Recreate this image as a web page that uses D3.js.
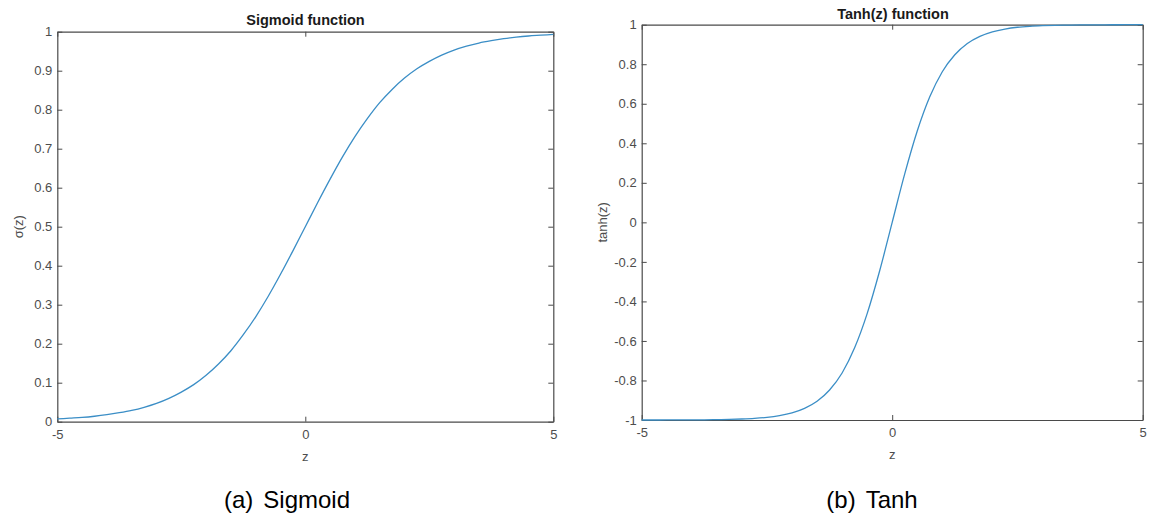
<!DOCTYPE html>
<html>
<head>
<meta charset="utf-8">
<script src="https://cdn.jsdelivr.net/npm/d3@7"></script>
<style>
  body { margin: 0; background: #fff; }
  text { font-family: "Liberation Sans", Arial, sans-serif; }
</style>
</head>
<body>
<div id="chart"></div>
<script>
// values, every 0.25 in z
const zValues = [-5, -4.75, -4.5, -4.25, -4, -3.75, -3.5, -3.25, -3, -2.75, -2.5, -2.25, -2, -1.75, -1.5, -1.25, -1, -0.75, -0.5, -0.25, 0,
                 0.25, 0.5, 0.75, 1, 1.25, 1.5, 1.75, 2, 2.25, 2.5, 2.75, 3, 3.25, 3.5, 3.75, 4, 4.25, 4.5, 4.75, 5];
const sigmoidValues = [0.007, 0.009, 0.011, 0.014, 0.018, 0.023, 0.029, 0.037, 0.047, 0.060, 0.076, 0.095, 0.119, 0.148, 0.182, 0.223, 0.269, 0.321, 0.378, 0.438, 0.5,
                       0.562, 0.622, 0.679, 0.731, 0.777, 0.818, 0.852, 0.881, 0.905, 0.924, 0.940, 0.953, 0.963, 0.971, 0.977, 0.982, 0.986, 0.989, 0.991, 0.993];
const tanhValues = [-1.0, -1.0, -0.9998, -0.9996, -0.9993, -0.9989, -0.998, -0.997, -0.995, -0.992, -0.987, -0.978, -0.964, -0.941, -0.905, -0.848, -0.762, -0.635, -0.462, -0.245, 0,
                    0.245, 0.462, 0.635, 0.762, 0.848, 0.905, 0.941, 0.964, 0.978, 0.987, 0.992, 0.995, 0.997, 0.998, 0.9989, 0.9993, 0.9996, 0.9998, 1.0, 1.0];
const xTicks = [-5, 0, 5];
const sigmoidTicks = [0, 0.1, 0.2, 0.3, 0.4, 0.5, 0.6, 0.7, 0.8, 0.9, 1];
const tanhTicks = [-1, -0.8, -0.6, -0.4, -0.2, 0, 0.2, 0.4, 0.6, 0.8, 1];

const width = 1150, height = 517;
const svg = d3.select("#chart").append("svg")
    .attr("width", width).attr("height", height);

const fmt = d => String(+d.toFixed(1));
const boxColor = "#4a4a4a", labelColor = "#4d4d4d", lineColor = "#3b8ec6";

function drawPanel(p) {
    const x = d3.scaleLinear().domain([-5, 5]).range([p.x0, p.x1]);
    const y = d3.scaleLinear().domain(p.yDomain).range([p.y1, p.y0]);
    const g = svg.append("g");

    // bottom + left with labels, top + right just ticks (inward like matlab)
    const bottom = g.append("g").attr("transform", `translate(0,${p.y1})`)
        .call(d3.axisBottom(x).tickValues(xTicks).tickSizeInner(-5).tickSizeOuter(0)
              .tickPadding(8).tickFormat(fmt));
    const left = g.append("g").attr("transform", `translate(${p.x0},0)`)
        .call(d3.axisLeft(y).tickValues(p.yTicks).tickSizeInner(-5).tickSizeOuter(0)
              .tickPadding(5).tickFormat(fmt));
    const top = g.append("g").attr("transform", `translate(0,${p.y0})`)
        .call(d3.axisTop(x).tickValues(xTicks).tickSizeInner(-5).tickSizeOuter(0).tickFormat(""));
    const right = g.append("g").attr("transform", `translate(${p.x1},0)`)
        .call(d3.axisRight(y).tickValues(p.yTicks).tickSizeInner(-5).tickSizeOuter(0).tickFormat(""));

    [bottom, left, top, right].forEach(a => {
        a.selectAll("path.domain").attr("stroke", boxColor).attr("stroke-width", 1.2);
        a.selectAll(".tick line").attr("stroke", boxColor);
        a.selectAll(".tick text").attr("fill", labelColor).style("font-size", "13px");
    });

    const line = d3.line()
        .x((d, i) => x(zValues[i]))
        .y(d => y(d))
        .curve(d3.curveMonotoneX);

    g.append("path")
        .datum(p.values)
        .attr("fill", "none")
        .attr("stroke", lineColor)
        .attr("stroke-width", 1.3)
        .attr("d", line);

    // title
    g.append("text")
        .attr("x", p.titleX).attr("y", p.titleY)
        .attr("text-anchor", "middle")
        .style("font-size", "14.5px").style("font-weight", "bold")
        .attr("fill", "#1a1a1a")
        .text(p.title);

    // axis labels
    g.append("text")
        .attr("x", (p.x0 + p.x1) / 2).attr("y", p.y1 + 39)
        .attr("text-anchor", "middle")
        .style("font-size", "13px").attr("fill", labelColor)
        .text("z");

    g.append("text")
        .attr("transform", `translate(${p.ylabX},${(p.y0 + p.y1) / 2}) rotate(-90)`)
        .attr("text-anchor", "middle")
        .style("font-size", "13px").attr("fill", labelColor)
        .text(p.ylab);

    // caption underneath
    const cap = g.append("text")
        .attr("x", p.capX).attr("y", 508)
        .attr("text-anchor", "middle")
        .style("font-size", "24px").attr("fill", "#000");
    cap.append("tspan").text(p.capTag);
    cap.append("tspan").attr("dx", 10).text(p.capName);
}

drawPanel({
    x0: 57.3, x1: 553.3, y0: 31.7, y1: 421.7,
    yDomain: [0, 1], yTicks: sigmoidTicks, values: sigmoidValues,
    title: "Sigmoid function", titleX: 305.5, titleY: 25,
    ylab: "σ(z)", ylabX: 23,
    capTag: "(a)", capName: "Sigmoid", capX: 287
});

drawPanel({
    x0: 641.7, x1: 1142.7, y0: 24.7, y1: 420,
    yDomain: [-1, 1], yTicks: tanhTicks, values: tanhValues,
    title: "Tanh(z) function", titleX: 893, titleY: 18.5,
    ylab: "tanh(z)", ylabX: 606.5,
    capTag: "(b)", capName: "Tanh", capX: 872
});
</script>
</body>
</html>
